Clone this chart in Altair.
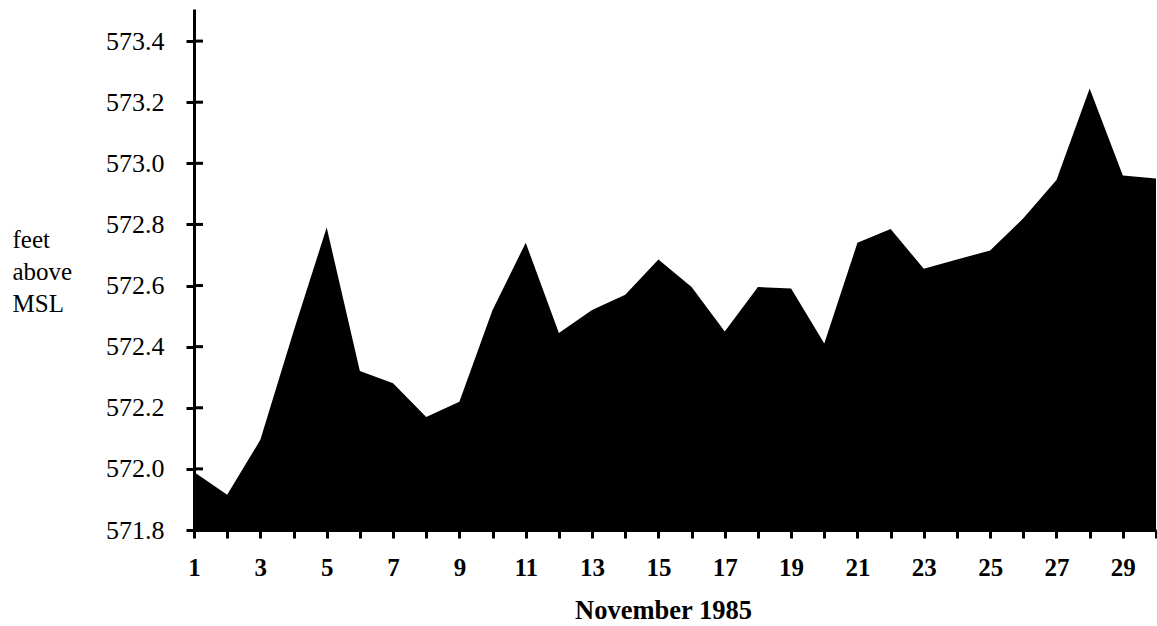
import altair as alt
import pandas as pd

# Daily lake level, November 1985 (feet above mean sea level)
days = list(range(1, 31))
levels = [
    571.99, 571.915, 572.095, 572.45, 572.79, 572.32, 572.28, 572.17, 572.22, 572.52,
    572.74, 572.445, 572.52, 572.57, 572.685, 572.595, 572.45, 572.595, 572.59, 572.41,
    572.74, 572.785, 572.655, 572.685, 572.715, 572.82, 572.945, 573.245, 572.96, 572.95,
]
y_ticks = [571.8, 572.0, 572.2, 572.4, 572.6, 572.8, 573.0, 573.2, 573.4]

FONT = "Liberation Serif"
W, H = 962, 521
Y_MIN, Y_MAX = 571.8, 573.505

df = pd.DataFrame({"day": days, "level": levels})
ticks_df = pd.DataFrame({"t": y_ticks})

x_enc = alt.X(
    "day:Q",
    scale=alt.Scale(domain=[1, 30], nice=False),
    axis=alt.Axis(
        values=days,
        labelExpr="datum.value % 2 == 1 ? datum.label : ''",
        title="November 1985",
        titleFont=FONT,
        titleFontSize=26.5,
        titleFontWeight="bold",
        titleColor="black",
        titleX=469,
        titleY=88,
        titleAlign="center",
        titleBaseline="alphabetic",
        labelFont=FONT,
        labelFontSize=25,
        labelFontWeight="bold",
        labelColor="black",
        labelPadding=17,
        labelFlush=False,
        labelOverlap=False,
        tickSize=8,
        tickWidth=3,
        tickColor="black",
        domainColor="black",
        domainWidth=3,
        grid=False,
    ),
)

y_scale = alt.Scale(domain=[Y_MIN, Y_MAX], nice=False, zero=False)

area = alt.Chart(df).mark_area(color="black", interpolate="linear", opacity=1).encode(
    x=x_enc,
    y=alt.Y(
        "level:Q",
        scale=y_scale,
        axis=alt.Axis(
            values=y_ticks,
            format=".1f",
            title=["feet", "above", "MSL"],
            titleAngle=0,
            titleFont=FONT,
            titleFontSize=25,
            titleFontWeight="normal",
            titleColor="black",
            titleAlign="left",
            titleBaseline="alphabetic",
            titleLineHeight=32,
            titleX=-182,
            titleY=238,
            labelFont=FONT,
            labelFontSize=26,
            labelColor="black",
            labelPadding=22,
            tickSize=8,
            tickWidth=3,
            tickColor="black",
            domainColor="black",
            domainWidth=3,
            grid=False,
        ),
    ),
    y2=alt.datum(Y_MIN),
)

# inner half of the y-axis tick marks (ticks cross the axis line)
inner_ticks = alt.Chart(ticks_df).mark_rule(color="black", strokeWidth=3).encode(
    x=alt.value(0),
    x2=alt.value(9),
    y=alt.Y("t:Q", scale=y_scale),
)

chart = (
    alt.layer(area, inner_ticks)
    .properties(
        width=W,
        height=H,
        autosize=alt.AutoSizeParams(type="none"),
        padding={"left": 194, "top": 9, "right": 1, "bottom": 96},
        background="white",
    )
    .configure_view(stroke=None)
)

chart.save("out.html", embed_options={"renderer": "svg", "actions": False})
